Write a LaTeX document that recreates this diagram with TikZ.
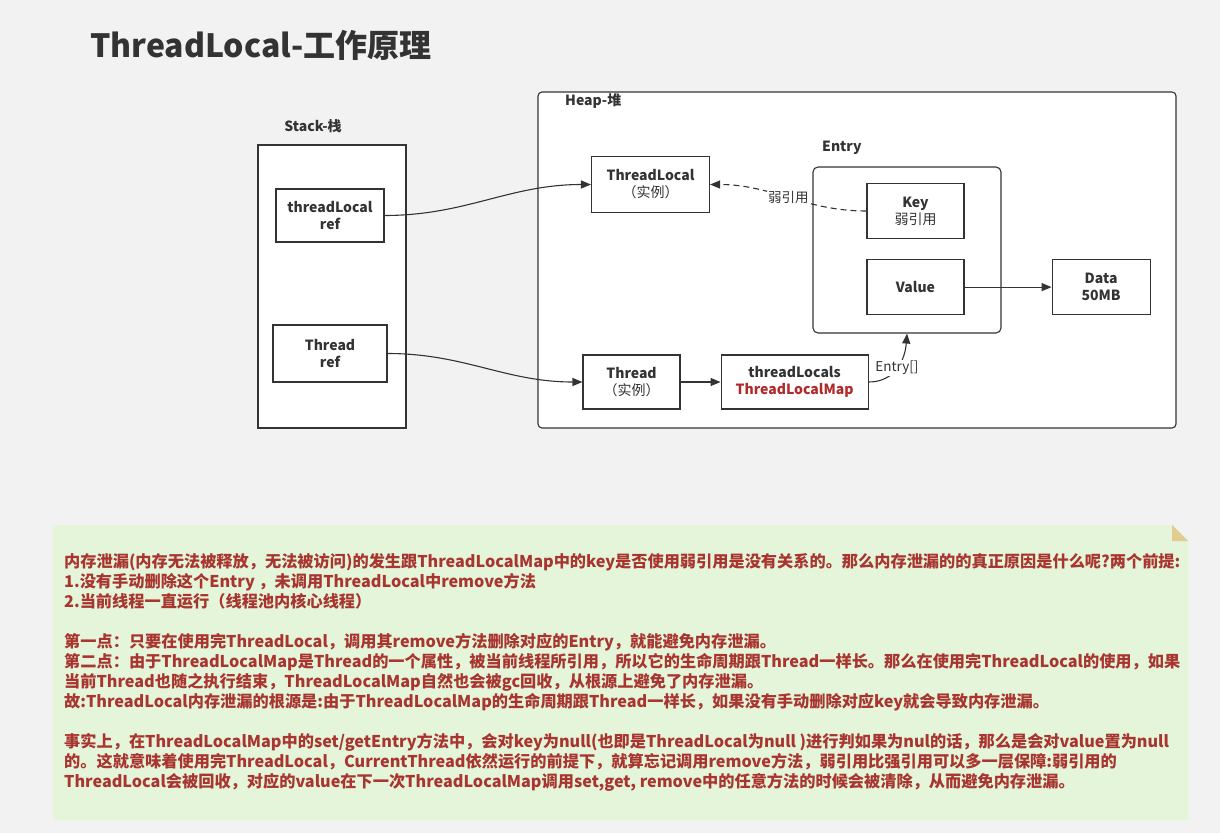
\documentclass[tikz,border=0pt]{standalone}
\usepackage{fontspec}
\setmainfont{Noto Sans CJK SC}
\usepackage{xcolor}
\usepackage{tikz}
\usetikzlibrary{arrows.meta, positioning}
\definecolor{PageGray}{HTML}{F2F2F2}
\definecolor{InkDark}{HTML}{333333}
\definecolor{NoteGreen}{HTML}{E4F5D9}
\definecolor{NoteFold}{HTML}{E0CD8F}
\definecolor{NoteRed}{HTML}{A8352F}
\definecolor{MapRed}{HTML}{B02A2A}

\begin{document}
\begin{tikzpicture}[
    x=1pt, y=-1pt,
    % Style for the small object boxes
    obj/.style = {
        rectangle, draw=InkDark, line width=1.1pt, fill=white,
        align=center, inner sep=0pt, text=InkDark,
        font={\fontsize{14}{17}\selectfont\bfseries}
    },
    % Style for the large memory regions
    region/.style = {
        rectangle, draw=InkDark, line width=1.1pt, fill=white, inner sep=0pt
    },
    % Style for region captions
    caption/.style = {font={\fontsize{14}{17}\selectfont\bfseries}, text=InkDark, inner sep=0pt},
    % Style for connector labels
    tag/.style = {font={\fontsize{13.5}{16}\selectfont}, text=InkDark, fill=white, inner sep=1pt},
    arr/.style = {-{Triangle[length=10pt, width=8pt]}, line width=1.1pt, draw=InkDark},
]

% --- 0. PAGE & TITLE ---
\fill[PageGray] (0,0) rectangle (1220,833);
\useasboundingbox (0,0) rectangle (1220,833);
\node[anchor=west, inner sep=0pt, text=InkDark, font={\fontsize{32}{36}\selectfont\bfseries}] (title) at (90,45) {ThreadLocal-工作原理};

% --- 1. STACK ---
\node[region, minimum width=148pt, minimum height=283pt] (stack) at (332,286.5) {};
\node[caption] (stacklbl) at (313,126) {Stack-栈};
\node[obj, minimum width=108pt, minimum height=53pt] (tlref) at (330,215.5) {threadLocal\\ref};
\node[obj, minimum width=114pt, minimum height=57pt] (thref) at (330,353.5) {Thread\\ref};

% --- 2. HEAP ---
\node[region, rounded corners=4pt, minimum width=638pt, minimum height=336pt] (heap) at (857,260) {};
\node[caption, anchor=west] (heaplbl) at (565,101) {Heap-堆};

\node[obj, minimum width=118pt, minimum height=56pt] (tlinst) at (650.5,184.5) {ThreadLocal\\\textmd{（实例）}};
\node[obj, minimum width=97pt, minimum height=54pt] (thinst) at (631.5,382) {Thread\\\textmd{（实例）}};
\node[obj, minimum width=147pt, minimum height=54pt, right=40pt of thinst] (tlmap) {threadLocals\\\textcolor{MapRed}{ThreadLocalMap}};

% Entry container
\node[region, rounded corners=5pt, minimum width=188pt, minimum height=166pt] (entry) at (907,250) {};
\node[caption, anchor=west] (entrylbl) at (822,148) {Entry};
\node[obj, minimum width=97pt, minimum height=55pt] (key) at (915.5,211) {Key\\\textmd{弱引用}};
\node[obj, minimum width=97pt, minimum height=55pt, below=20pt of key] (value) {Value};
\node[obj, minimum width=98pt, minimum height=55pt, right=87pt of value] (data) {Data\\50MB};

% --- 3. CONNECTORS ---
\draw[arr] (tlref.east) to[out=0, in=180] (tlinst.west);
\draw[arr] (thref.east) to[out=0, in=180] (thinst.west);
\draw[arr] (thinst) -- (tlmap);
\draw[arr] (tlmap.east) .. controls (895,382) and (905,360) .. (entry.south)
    node[tag, pos=0.5] {Entry[]};
\draw[arr, dashed, dash pattern=on 6pt off 4pt] (key.west) to[out=180, in=0]
    node[tag, pos=0.5] {弱引用} (tlinst.east);
\draw[arr] (value) -- (data);

% --- 4. NOTE ---
\fill[NoteGreen] (53,525) -- (1172,525) -- (1188,541) -- (1188,820) -- (53,820) -- cycle;
\fill[NoteFold] (1172,525) -- (1172,541) -- (1188,541) -- cycle;
\node[anchor=north west, inner sep=0pt, align=left, text=NoteRed,
      font={\fontsize{16.2}{20}\selectfont\bfseries}] (note) at (64,553) {%
内存泄漏(内存无法被释放，无法被访问)的发生跟ThreadLocalMap中的key是否使用弱引用是没有关系的。那么内存泄漏的的真正原因是什么呢?两个前提:\\
1.没有手动删除这个Entry ，未调用ThreadLocal中remove方法\\
2.当前线程一直运行（线程池内核心线程）\\[20pt]
第一点：只要在使用完ThreadLocal，调用其remove方法删除对应的Entry，就能避免内存泄漏。\\
第二点：由于ThreadLocalMap是Thread的一个属性，被当前线程所引用，所以它的生命周期跟Thread一样长。那么在使用完ThreadLocal的使用，如果\\
当前Thread也随之执行结束，ThreadLocalMap自然也会被gc回收，从根源上避免了内存泄漏。\\
故:ThreadLocal内存泄漏的根源是:由于ThreadLocalMap的生命周期跟Thread一样长，如果没有手动删除对应key就会导致内存泄漏。\\[20pt]
事实上，在ThreadLocalMap中的set/getEntry方法中，会对key为null(也即是ThreadLocal为null )进行判如果为nul的话，那么是会对value置为null\\
的。这就意味着使用完ThreadLocal，CurrentThread依然运行的前提下，就算忘记调用remove方法，弱引用比强引用可以多一层保障:弱引用的\\
ThreadLocal会被回收，对应的value在下一次ThreadLocalMap调用set,get, remove中的任意方法的时候会被清除，从而避免内存泄漏。};

\end{tikzpicture}
\end{document}
